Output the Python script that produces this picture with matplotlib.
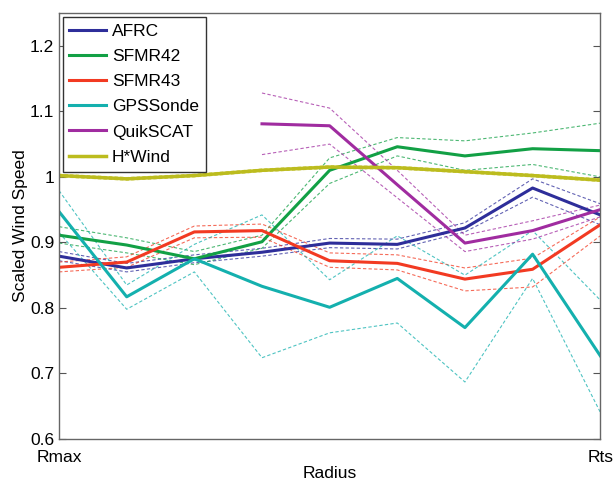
# -*- coding: utf-8 -*-
"""
Scaled wind speed vs radius for several observing platforms
"""
import numpy as np
import matplotlib
matplotlib.use("Agg")
import matplotlib.pyplot as plt

plt.rcParams['font.family'] = ['Liberation Sans', 'DejaVu Sans']

# =============================   Data   =================================
radius = np.arange(9)
xtick_labels = ['Rmax', 'Rts']

afrc     = [0.879, 0.861, 0.875, 0.885, 0.899, 0.897, 0.922, 0.983, 0.942]
afrc_hi  = [0.886, 0.868, 0.881, 0.891, 0.906, 0.905, 0.930, 0.997, 0.959]
afrc_lo  = [0.872, 0.855, 0.869, 0.879, 0.892, 0.890, 0.916, 0.969, 0.927]

sfmr42    = [0.911, 0.896, 0.875, 0.901, 1.010, 1.046, 1.032, 1.043, 1.040]
sfmr42_hi = [0.924, 0.907, 0.886, 0.911, 1.029, 1.060, 1.055, 1.067, 1.082]
sfmr42_lo = [0.899, 0.884, 0.866, 0.891, 0.990, 1.032, 1.010, 1.019, 1.000]

sfmr43    = [0.862, 0.870, 0.916, 0.918, 0.872, 0.868, 0.844, 0.859, 0.927]
sfmr43_hi = [0.870, 0.878, 0.925, 0.928, 0.884, 0.881, 0.861, 0.876, 0.939]
sfmr43_lo = [0.855, 0.862, 0.907, 0.908, 0.862, 0.858, 0.826, 0.832, 0.910]

gps    = [0.947, 0.817, 0.875, 0.833, 0.801, 0.845, 0.770, 0.882, 0.727]
gps_hi = [0.979, 0.835, 0.897, 0.942, 0.843, 0.910, 0.850, 0.918, 0.812]
gps_lo = [0.915, 0.798, 0.855, 0.724, 0.762, 0.777, 0.687, 0.845, 0.641]

qs_radius = radius[3:]
qscat    = [1.081, 1.078, 0.988, 0.899, 0.918, 0.950]
qscat_hi = [1.128, 1.105, 1.010, 0.911, 0.933, 0.957]
qscat_lo = [1.034, 1.050, 0.968, 0.886, 0.905, 0.939]

hwind    = [1.002, 0.997, 1.002, 1.010, 1.015, 1.014, 1.008, 1.002, 0.995]
hwind_hi = [1.004, 0.999, 1.004, 1.012, 1.017, 1.016, 1.010, 1.004, 0.997]
hwind_lo = [1.000, 0.995, 1.000, 1.008, 1.013, 1.012, 1.006, 1.000, 0.993]

series = [
    ('AFRC',      radius,    afrc,   afrc_hi,   afrc_lo,   '#2e2e9a'),
    ('SFMR42',    radius,    sfmr42, sfmr42_hi, sfmr42_lo, '#12a045'),
    ('SFMR43',    radius,    sfmr43, sfmr43_hi, sfmr43_lo, '#f23a22'),
    ('GPSSonde',  radius,    gps,    gps_hi,    gps_lo,    '#14b0ae'),
    ('QuikSCAT',  qs_radius, qscat,  qscat_hi,  qscat_lo,  '#a02ca0'),
    ('H*Wind',    radius,    hwind,  hwind_hi,  hwind_lo,  '#bcbc1e'),
]

# =============================   Plot   =================================
fig = plt.figure(figsize=(6.15, 4.84), dpi=100)
ax = fig.add_axes([0.096, 0.093, 0.880, 0.880])

for name, x, y, hi, lo, col in series:
    ax.plot(x, hi, color=col, lw=0.8, ls=(0, (3, 2)), alpha=0.75)
    ax.plot(x, lo, color=col, lw=0.8, ls=(0, (3, 2)), alpha=0.75)
for name, x, y, hi, lo, col in series:
    ax.plot(x, y, color=col, lw=2.5 if name == 'H*Wind' else 2.2, label=name)

ax.set_xlim(0, 8)
ax.set_ylim(0.6, 1.25)
ax.set_xticks([0, 8])
ax.set_xticklabels(xtick_labels)
ax.set_yticks([0.6, 0.7, 0.8, 0.9, 1.0, 1.1, 1.2])
ax.set_yticklabels(['0.6', '0.7', '0.8', '0.9', '1', '1.1', '1.2'])
ax.tick_params(axis='y', direction='in', right=True, length=5, labelsize=12.5,
               color='#555555')
ax.tick_params(axis='x', direction='in', length=0, labelsize=12.5, pad=8)
for s in ax.spines.values():
    s.set_color('#666666')
    s.set_linewidth(1.0)

ax.set_xlabel('Radius', fontsize=12.5, labelpad=1)
ax.set_ylabel('Scaled Wind Speed', fontsize=12.5, labelpad=1)

leg = ax.legend(loc='upper left', fontsize=12.5, frameon=True, fancybox=False,
                handlelength=2.1, handletextpad=0.35, labelspacing=0.58,
                borderpad=0.4, borderaxespad=0.2)
leg.get_frame().set_edgecolor('#333333')
leg.get_frame().set_linewidth(1.0)
leg.get_frame().set_alpha(1.0)

plt.savefig('out.png', dpi=100)
